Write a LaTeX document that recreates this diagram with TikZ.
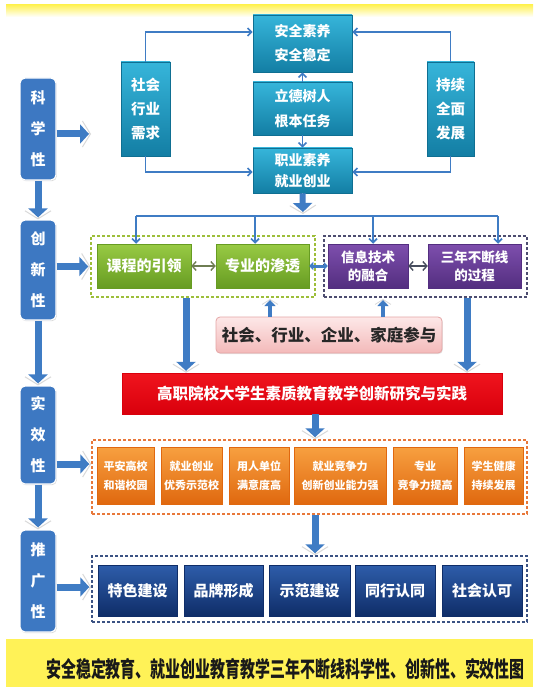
\documentclass[tikz,border=0pt]{standalone}
\usepackage{fontspec}
\setmainfont{Noto Sans CJK SC}
\usepackage{graphicx}
\usetikzlibrary{arrows.meta,shadows}
\definecolor{abl}{HTML}{3F7CC4}
\definecolor{lbl}{HTML}{3D78C2}
\definecolor{tealA}{HTML}{36B5DA}
\definecolor{tealB}{HTML}{137EA4}
\definecolor{tealD}{HTML}{0F6F92}
\definecolor{grA}{HTML}{98CA44}
\definecolor{grB}{HTML}{679C22}
\definecolor{grD}{HTML}{9DBE3A}
\definecolor{puA}{HTML}{7E4FAD}
\definecolor{puB}{HTML}{532E80}
\definecolor{puD}{HTML}{4D4D70}
\definecolor{pkA}{HTML}{FDE8E8}
\definecolor{pkB}{HTML}{F3B9B9}
\definecolor{pkD}{HTML}{E5A5A5}
\definecolor{rdA}{HTML}{F0141E}
\definecolor{rdB}{HTML}{D9000C}
\definecolor{orA}{HTML}{F7A040}
\definecolor{orB}{HTML}{E0680F}
\definecolor{orD}{HTML}{E8783A}
\definecolor{nvA}{HTML}{2E5DAA}
\definecolor{nvB}{HTML}{0F2D68}
\definecolor{nvD}{HTML}{3B5283}
\definecolor{ylw}{HTML}{FFF257}
\definecolor{dgA}{HTML}{6E7D52}
\definecolor{dgB}{HTML}{474D5E}
\begin{document}
\begin{tikzpicture}[x=1pt,y=-1pt,
 bx/.style={inner sep=0pt, align=center, text=white},
 lbox/.style={bx, rounded corners=5pt, fill=lbl, draw=white, line width=1.2pt, minimum width=36pt,
   drop shadow={opacity=0.3,shadow xshift=0.8pt,shadow yshift=-1.2pt}, font=\bfseries\fontsize{15}{31}\selectfont},
 tbox/.style={bx, top color=tealA, bottom color=tealB, draw=tealD, line width=0.6pt},
 gbox/.style={bx, top color=grA, bottom color=grB, draw=grB, line width=0.5pt, minimum height=44pt, font=\bfseries\fontsize{15}{18}\selectfont},
 pbox/.style={bx, top color=puA, bottom color=puB, draw=puB, line width=0.5pt, minimum height=44pt, font=\bfseries\fontsize{13.5}{18}\selectfont},
 obox/.style={bx, top color=orA, bottom color=orB, draw=orB, line width=0.5pt, minimum height=57pt, font=\bfseries\fontsize{11}{19}\selectfont},
 nbox/.style={bx, top color=nvA, bottom color=nvB, draw=nvB, line width=0.5pt, minimum height=51pt, font=\bfseries\fontsize{15}{18}\selectfont},
 grp/.style={draw, dash pattern=on 3pt off 2pt, line width=1.5pt, inner sep=0pt},
 conn/.style={draw=abl, line width=1.6pt},
 carr/.style={conn, -{Straight Barb[length=4pt,width=8pt]}},
 dbarb/.style={line width=1.4pt, {Straight Barb[length=4pt,width=9pt]}-{Straight Barb[length=4pt,width=9pt]}},
 bigarr/.style={draw=abl, line width=7pt, -{Triangle[length=9pt,width=19pt]}, shorten >=2pt,
   preaction={draw=gray!30, line width=1pt, shorten >=0pt, -{Straight Barb[length=8pt,width=26pt]}}},
 smarr/.style={draw=abl, line width=4pt, -{Triangle[length=6pt,width=11pt]}, shorten >=1pt,
   preaction={draw=gray!30, line width=0.8pt, shorten >=0pt, -{Straight Barb[length=5pt,width=16pt]}}}
]
\useasboundingbox (0,0) rectangle (533,687);
\fill[white] (0,0) rectangle (533,687);
\shade[top color=ylw, bottom color=white] (6,5) rectangle (533,17);
\fill[ylw] (6,639) rectangle (533,687);

% left column
\node[lbox, minimum height=102pt] (ke) at (38,129) {科\\学\\性};
\node[lbox, minimum height=100pt] (cx) at (38,270) {创\\新\\性};
\node[lbox, minimum height=98pt] (sx) at (38,435) {实\\效\\性};
\node[lbox, minimum height=102pt] (tg) at (38,581) {推\\广\\性};

% top teal block
\node[tbox, minimum width=99pt, minimum height=57pt, font=\bfseries\fontsize{14}{24}\selectfont] (an) at (302.5,43.5) {安全素养\\安全稳定};
\node[tbox, minimum width=99pt, minimum height=53pt, font=\bfseries\fontsize{14}{25}\selectfont] (li) at (302.5,108.5) {立德树人\\根本任务};
\node[tbox, minimum width=99pt, minimum height=45pt, font=\bfseries\fontsize{14}{21}\selectfont] (zhi) at (302.5,170.5) {职业素养\\就业创业};
\node[tbox, minimum width=49pt, minimum height=94pt, font=\bfseries\fontsize{14.5}{24}\selectfont] (she) at (145.5,109) {社会\\行业\\需求};
\node[tbox, minimum width=47pt, minimum height=94pt, font=\bfseries\fontsize{14.5}{24}\selectfont] (chi) at (450.5,109) {持续\\全面\\发展};

\coordinate (tl) at (0,32);
\coordinate (bl) at (0,172);
\draw[carr] (she.north) |- (an.west |- tl);
\draw[carr] (chi.north) |- (an.east |- tl);
\draw[carr] (she.south) |- (zhi.west |- bl);
\draw[carr] (chi.south) |- (zhi.east |- bl);
\draw[carr] (li.north) -- (an.south);
\draw[carr] (li.south) -- (zhi.north);

% groups
\node[grp, draw=grD, minimum width=224pt, minimum height=61pt] (gg) at (203,266.5) {};
\node[grp, draw=puD, minimum width=203pt, minimum height=61pt] (pg) at (425.5,266.5) {};
\node[gbox, minimum width=94pt] (kc) at (144,266) {课程的引领};
\node[gbox, minimum width=93pt] (zy) at (262.5,266) {专业的渗透};
\node[pbox, minimum width=80pt] (xx) at (368,266) {信息技术\\的融合};
\node[pbox, minimum width=93pt] (sn) at (474.5,266) {三年不断线\\的过程};

\draw[dbarb, draw=dgA] (kc.east) -- (zy.west);
\draw[draw=abl, line width=3pt, {Triangle[length=4pt,width=8pt]}-{Triangle[length=4pt,width=8pt]}] (zy.east) -- (xx.west);
\draw[dbarb, draw=dgB] (xx.east) -- (sn.west);

% distribution line
\coordinate (hub) at (303,214);
\coordinate (d1) at (136,216);
\coordinate (d2) at (255,216);
\coordinate (d3) at (373,216);
\coordinate (d4) at (498,216);
\draw[bigarr, line width=6pt] (zhi.south) -- (hub);
\draw[conn] (d1) -- (d4);
\draw[carr] (d1) -- (d1 |- kc.north);
\draw[carr] (d2) -- (d2 |- zy.north);
\draw[carr] (d3) -- (d3 |- xx.north);
\draw[carr] (d4) -- (d4 |- sn.north);

% pink participation box
\node[bx, rounded corners=4pt, top color=pkA, bottom color=pkB, draw=pkD, line width=0.8pt,
  minimum width=226pt, minimum height=36pt, text=black!85, font=\bfseries\fontsize{16.5}{18}\selectfont,
  drop shadow={opacity=0.2,shadow xshift=0.8pt,shadow yshift=-1pt}] (pk) at (329,335) {社会、行业、企业、家庭参与};
\coordinate (u1) at (270,299);
\coordinate (u2) at (383,299);
\draw[smarr] (pk.north -| u1) -- (u1);
\draw[smarr] (pk.north -| u2) -- (u2);

% red box
\node[bx, top color=rdA, bottom color=rdB, draw=rdB, minimum width=380pt, minimum height=41pt,
  font=\bfseries\fontsize{15.5}{18}\selectfont] (rd) at (312,393.5) {高职院校大学生素质教育教学创新研究与实践};
\coordinate (t1) at (186,0);
\coordinate (t2) at (467,0);
\draw[bigarr] (gg.south -| t1) -- (rd.north -| t1);
\draw[bigarr] (pg.south -| t2) -- (rd.north -| t2);

% orange group
\node[grp, draw=orD, minimum width=435pt, minimum height=74pt] (og) at (309.5,477) {};
\node[obox, minimum width=57pt] (o1) at (125.5,475.5) {平安高校\\和谐校园};
\node[obox, minimum width=61pt] (o2) at (191.5,475.5) {就业创业\\优秀示范校};
\node[obox, minimum width=60pt] (o3) at (259,475.5) {用人单位\\满意度高};
\node[obox, minimum width=92pt] (o4) at (340,475.5) {就业竞争力\\创新创业能力强};
\node[obox, minimum width=64pt] (o5) at (425,475.5) {专业\\竞争力提高};
\node[obox, minimum width=59pt] (o6) at (493.5,475.5) {学生健康\\持续发展};

% navy group
\node[grp, draw=nvD, minimum width=435pt, minimum height=66pt] (ng) at (309.5,589) {};
\node[nbox, minimum width=79pt] (n1) at (137.5,590.5) {特色建设};
\node[nbox, minimum width=79pt] (n2) at (223.5,590.5) {品牌形成};
\node[nbox, minimum width=81pt] (n3) at (309.5,590.5) {示范建设};
\node[nbox, minimum width=80pt] (n4) at (395,590.5) {同行认同};
\node[nbox, minimum width=80pt] (n5) at (482,590.5) {社会认可};

\coordinate (m1) at (315,0);
\draw[bigarr] (rd.south -| m1) -- (og.north -| m1);
\draw[bigarr] (og.south -| m1) -- (ng.north -| m1);

% left column arrows
\draw[bigarr] (ke.south) -- (cx.north);
\draw[bigarr] (cx.south) -- (sx.north);
\draw[bigarr] (sx.south) -- (tg.north);
\coordinate (h1) at (91,134);
\coordinate (h3) at (0,464);
\coordinate (h4) at (0,587);
\draw[bigarr] (ke.east |- h1) -- (h1);
\draw[bigarr] (cx.east |- gg.west) -- (gg.west);
\draw[bigarr] (sx.east |- h3) -- (og.west |- h3);
\draw[bigarr] (tg.east |- h4) -- (ng.west |- h4);

% caption
\node[text=black!90, inner sep=0pt] (cap) at (285.5,669) {\scalebox{0.68}[1]{\bfseries\fontsize{22}{24}\selectfont 安全稳定教育、就业创业教育教学三年不断线科学性、创新性、实效性图}};
\end{tikzpicture}
\end{document}
